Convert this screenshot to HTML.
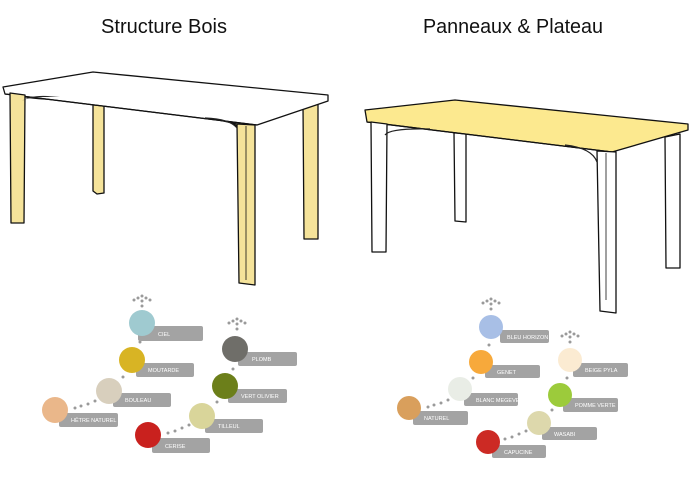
<!DOCTYPE html>
<html><head><meta charset="utf-8"><style>
html,body{margin:0;padding:0;background:#fff;width:700px;height:483px;overflow:hidden}
svg{display:block}
.t{font-family:"Liberation Sans",sans-serif;font-size:20px;fill:#111}
.l{font-family:"Liberation Sans",sans-serif;font-size:5.5px;fill:#fff}
.b{fill:#a3a3a3}
.d{fill:#9a9a9a}
</style></head><body>
<svg width="700" height="483" viewBox="0 0 700 483" xmlns="http://www.w3.org/2000/svg">
<text class="t" x="101" y="33" textLength="126" lengthAdjust="spacingAndGlyphs">Structure Bois</text>
<text class="t" x="423" y="33" textLength="180" lengthAdjust="spacingAndGlyphs">Panneaux &amp; Plateau</text>

<!-- Table 1 -->
<g stroke="#111" stroke-width="1.3" stroke-linejoin="round">
<polygon points="93,105 104,105 104,193 97,194 93,191" fill="#f5e39a"/>
<polygon points="303,105 318,103 318,239 304,239" fill="#f5e39a"/>
<path d="M20,95 Q30,100 70,99 L60,97 Z" fill="#f5e39a"/>
<path d="M205,117 Q235,120 240,130 L237,124 Z" fill="#f5e39a"/>
<polygon points="3,87 93,72 328,95 328,101 257,125 5,94" fill="#fff"/>
<line x1="5" y1="94" x2="257" y2="125"/>
<polygon points="10,93 25,95 24,223 11,223" fill="#f5e39a"/>
<polygon points="237,124 255,125 255,285 239,283" fill="#f5e39a"/>
<line x1="246" y1="126" x2="246" y2="280" stroke-width="0.8"/>
</g>
<path d="M22,101 Q28,96 60,97 L48,96 Q30,95 22,101Z" fill="#222"/>
<path d="M205,118 Q230,119 237,128" fill="none" stroke="#222" stroke-width="1.2"/>

<!-- Table 2 -->
<g stroke="#111" stroke-width="1.3" stroke-linejoin="round">
<polygon points="454,133 466,133 466,222 455,221" fill="#fff"/>
<polygon points="665,137 680,134 680,268 666,268" fill="#fff"/>
<polygon points="365,110 455,100 688,124 688,130 612,152 367,122" fill="#fce98f"/>
<line x1="367" y1="122" x2="612" y2="152"/>
<polygon points="371,122 387,124 386,252 372,252" fill="#fff"/>
<polygon points="597,151 616,152 616,313 600,311" fill="#fff"/>
<line x1="606" y1="153" x2="606" y2="300" stroke-width="0.8"/>
</g>
<path d="M385,135 Q390,128 430,129" fill="none" stroke="#222" stroke-width="1.2"/>
<path d="M565,145 Q592,148 597,162" fill="none" stroke="#222" stroke-width="1.2"/>

<!-- Left swatches -->
<g class="d">
<circle cx="142" cy="296" r="1.5"/><circle cx="138" cy="298" r="1.5"/><circle cx="146" cy="298" r="1.5"/><circle cx="134" cy="300" r="1.5"/><circle cx="150" cy="300" r="1.5"/><circle cx="142" cy="301" r="1.5"/><circle cx="142" cy="306" r="1.5"/>
<circle cx="237" cy="319" r="1.5"/><circle cx="233" cy="321" r="1.5"/><circle cx="241" cy="321" r="1.5"/><circle cx="229" cy="323" r="1.5"/><circle cx="245" cy="323" r="1.5"/><circle cx="237" cy="324" r="1.5"/><circle cx="237" cy="329" r="1.5"/>
<circle cx="140" cy="342" r="1.5"/><circle cx="123" cy="377" r="1.5"/><circle cx="233" cy="369" r="1.5"/><circle cx="217" cy="402" r="1.5"/>
<circle cx="75" cy="408" r="1.5"/><circle cx="81" cy="406" r="1.5"/><circle cx="88" cy="404" r="1.5"/><circle cx="95" cy="401" r="1.5"/>
<circle cx="168" cy="433" r="1.5"/><circle cx="175" cy="431" r="1.5"/><circle cx="182" cy="428" r="1.5"/><circle cx="189" cy="425" r="1.5"/>
</g>
<g>
<rect class="b" x="138" y="326" width="65" height="15" rx="2"/><text class="l" x="158" y="336">CIEL</text>
<circle cx="142" cy="323" r="13" fill="#9fcad0"/>
<rect class="b" x="136" y="363" width="58" height="14" rx="2"/><text class="l" x="148" y="372">MOUTARDE</text>
<circle cx="132" cy="360" r="13" fill="#d8b424"/>
<rect class="b" x="113" y="393" width="58" height="14" rx="2"/><text class="l" x="125" y="402">BOULEAU</text>
<circle cx="109" cy="391" r="13" fill="#d8cfbd"/>
<rect class="b" x="59" y="413" width="59" height="14" rx="2"/><text class="l" x="71" y="422">HÊTRE NATUREL</text>
<circle cx="55" cy="410" r="13" fill="#eab78a"/>
<rect class="b" x="238" y="352" width="59" height="14" rx="2"/><text class="l" x="252" y="361">PLOMB</text>
<circle cx="235" cy="349" r="13" fill="#6f6e69"/>
<rect class="b" x="228" y="389" width="59" height="14" rx="2"/><text class="l" x="241" y="398">VERT OLIVIER</text>
<circle cx="225" cy="386" r="13" fill="#6c7f1a"/>
<rect class="b" x="205" y="419" width="58" height="14" rx="2"/><text class="l" x="218" y="428">TILLEUL</text>
<circle cx="202" cy="416" r="13" fill="#d9d59a"/>
<rect class="b" x="152" y="438" width="58" height="15" rx="2"/><text class="l" x="165" y="448">CERISE</text>
<circle cx="148" cy="435" r="13" fill="#c9211e"/>
</g>

<!-- Right swatches -->
<g class="d">
<circle cx="491" cy="299" r="1.5"/><circle cx="487" cy="301" r="1.5"/><circle cx="495" cy="301" r="1.5"/><circle cx="483" cy="303" r="1.5"/><circle cx="499" cy="303" r="1.5"/><circle cx="491" cy="304" r="1.5"/><circle cx="491" cy="309" r="1.5"/>
<circle cx="570" cy="332" r="1.5"/><circle cx="566" cy="334" r="1.5"/><circle cx="574" cy="334" r="1.5"/><circle cx="562" cy="336" r="1.5"/><circle cx="578" cy="336" r="1.5"/><circle cx="570" cy="337" r="1.5"/><circle cx="570" cy="342" r="1.5"/>
<circle cx="489" cy="345" r="1.5"/><circle cx="473" cy="378" r="1.5"/><circle cx="567" cy="378" r="1.5"/><circle cx="552" cy="410" r="1.5"/>
<circle cx="428" cy="407" r="1.5"/><circle cx="434" cy="405" r="1.5"/><circle cx="441" cy="403" r="1.5"/><circle cx="448" cy="400" r="1.5"/>
<circle cx="505" cy="439" r="1.5"/><circle cx="512" cy="437" r="1.5"/><circle cx="519" cy="434" r="1.5"/><circle cx="526" cy="431" r="1.5"/>
</g>
<g>
<rect class="b" x="500" y="330" width="49" height="13" rx="2"/><text class="l" x="507" y="339">BLEU HORIZON</text>
<circle cx="491" cy="327" r="12" fill="#a8bfe6"/>
<rect class="b" x="485" y="365" width="55" height="13" rx="2"/><text class="l" x="497" y="374">GENET</text>
<circle cx="481" cy="362" r="12" fill="#f7a93b"/>
<rect class="b" x="464" y="393" width="54" height="13" rx="2"/><text class="l" x="476" y="402">BLANC MEGEVE</text>
<circle cx="460" cy="389" r="12" fill="#e9ede6"/>
<rect class="b" x="413" y="411" width="55" height="14" rx="2"/><text class="l" x="424" y="420">NATUREL</text>
<circle cx="409" cy="408" r="12" fill="#d99f5c"/>
<rect class="b" x="573" y="363" width="55" height="14" rx="2"/><text class="l" x="585" y="372">BEIGE PYLA</text>
<circle cx="570" cy="360" r="12" fill="#fbebd2"/>
<rect class="b" x="563" y="398" width="55" height="14" rx="2"/><text class="l" x="575" y="407">POMME VERTE</text>
<circle cx="560" cy="395" r="12" fill="#9ccb3b"/>
<rect class="b" x="542" y="427" width="55" height="13" rx="2"/><text class="l" x="554" y="436">WASABI</text>
<circle cx="539" cy="423" r="12" fill="#ddd8ac"/>
<rect class="b" x="492" y="445" width="54" height="13" rx="2"/><text class="l" x="504" y="454">CAPUCINE</text>
<circle cx="488" cy="442" r="12" fill="#cc2a24"/>
</g>
</svg>
</body></html>
